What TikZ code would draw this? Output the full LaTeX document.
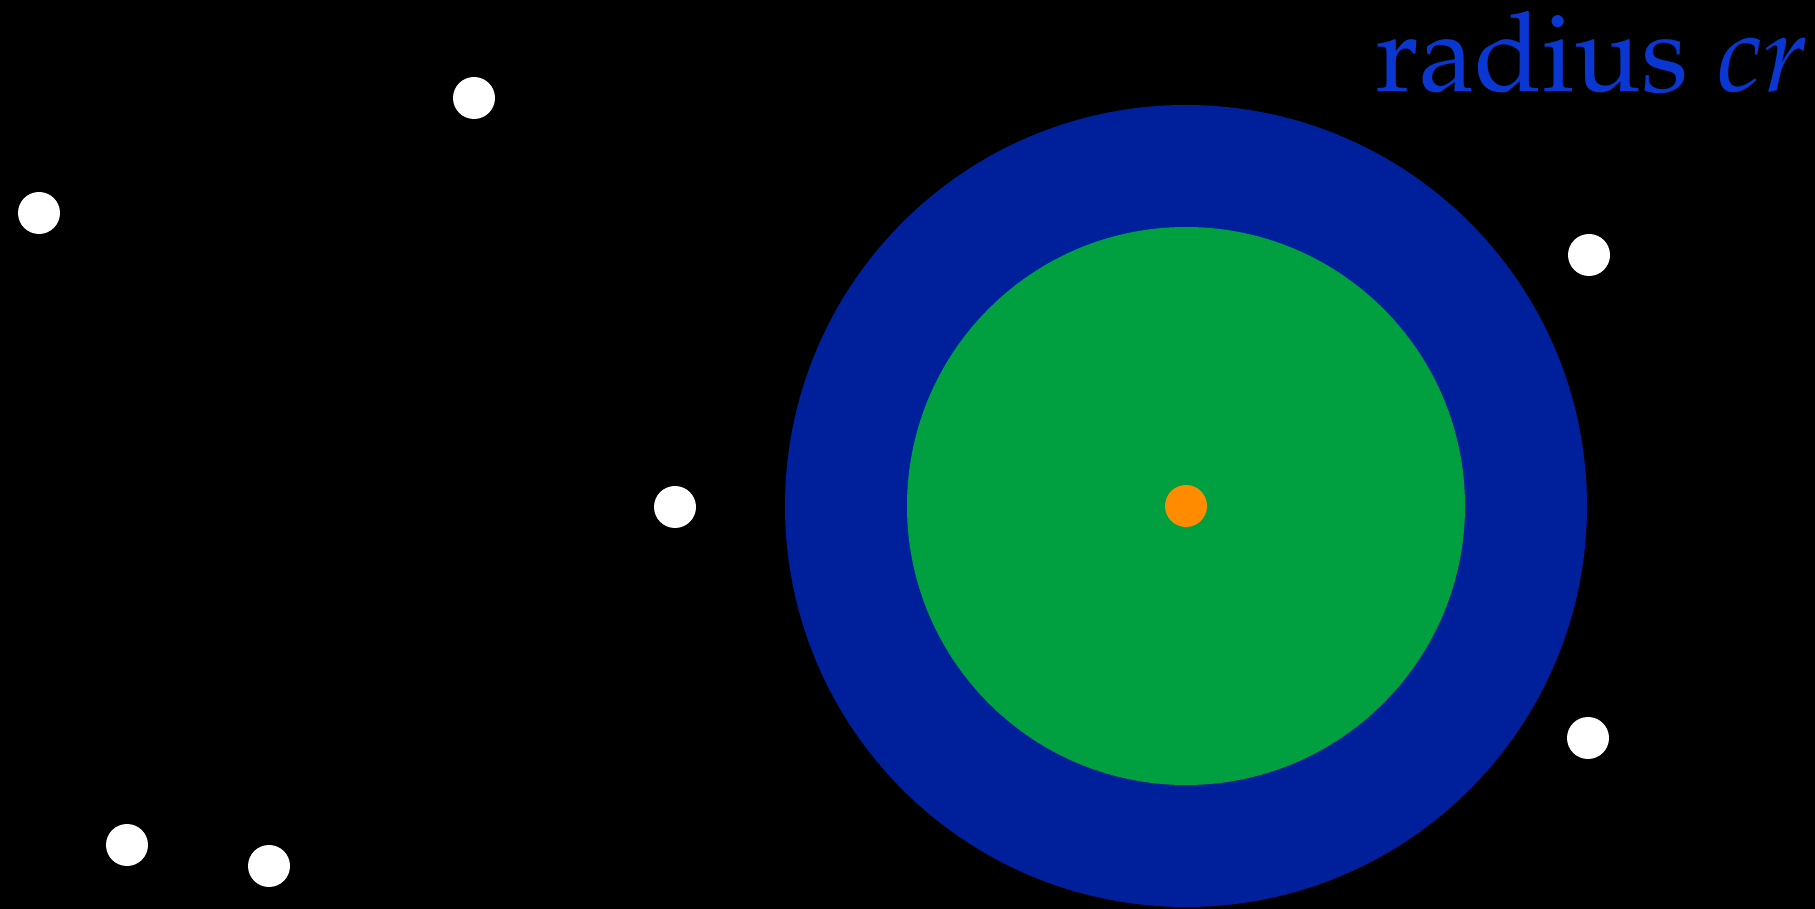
\documentclass[tikz,border=0pt]{standalone}
\usepackage[T1]{fontenc}
\usepackage{mathpazo}
\usepackage{xcolor}
\usepackage{tikz}
\usetikzlibrary{positioning}
\definecolor{ringblue}{RGB}{0,31,154}
\definecolor{diskgreen}{RGB}{0,160,64}
\definecolor{coreorange}{RGB}{255,140,0}
\definecolor{labelblue}{RGB}{10,55,210}
\tikzset{
  disk/.style={circle, inner sep=0pt, draw=none},
  dot/.style={disk, fill=white, minimum size=0.42cm},
}

\begin{document}
\begin{tikzpicture}
  \fill[black] (0,0) rectangle (18.15,9.09);
  \useasboundingbox (0,0) rectangle (18.15,9.09);

  % neighbourhood of the query point
  \node[disk, fill=ringblue, minimum size=8.02cm]   (ring) at (11.86,4.03) {};
  \node[disk, fill=diskgreen, minimum size=5.58cm]  (core) at (ring.center) {};
  \node[disk, fill=coreorange, minimum size=0.42cm] (q)    at (ring.center) {};
  \node[anchor=base east, inner sep=0pt, text=labelblue,
        font=\fontsize{31.5}{38}\selectfont]
    (lbl) at (18.1,8.17) {radius $cr$};

  % other points
  \node[dot] (p1) at (4.74,8.11) {};
  \node[dot] (p2) at (0.39,6.96) {};
  \node[dot] (p3) at (6.75,4.02) {};
  \node[dot] (p4) at (15.89,6.54) {};
  \node[dot] (p5) at (15.88,1.71) {};
  \node[dot] (p6) at (1.27,0.64) {};
  \node[dot] (p7) at (2.69,0.43) {};
\end{tikzpicture}
\end{document}
